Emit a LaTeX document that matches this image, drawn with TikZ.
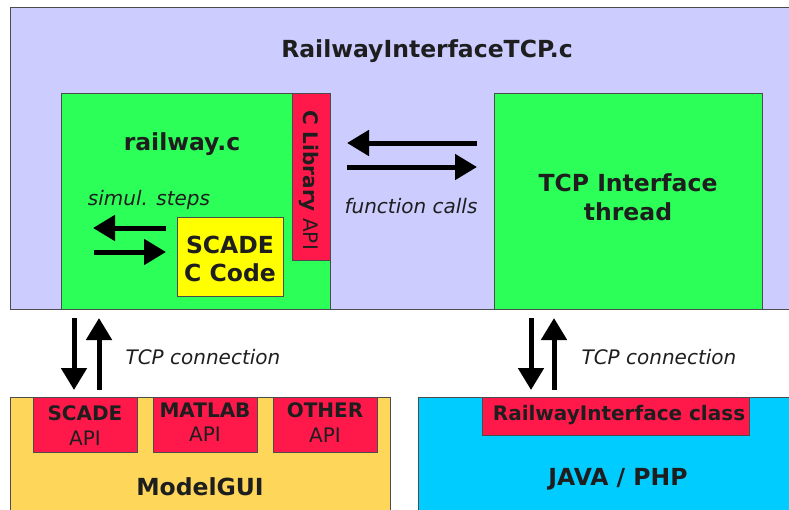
\documentclass[tikz,border=0pt]{standalone}
\usepackage{fontspec}
\setmainfont{DejaVu Sans}
\usepackage{tikz}
\usetikzlibrary{arrows.meta,positioning}

\definecolor{lavender}{RGB}{204,204,255}
\definecolor{codegreen}{RGB}{44,255,88}
\definecolor{apired}{RGB}{255,25,75}
\definecolor{codeyellow}{RGB}{255,255,0}
\definecolor{guiorange}{RGB}{254,215,90}
\definecolor{javacyan}{RGB}{0,204,255}
\definecolor{ink}{RGB}{30,30,30}

\tikzset{
	blk/.style={draw=black!70, line width=0.8pt, anchor=north west, inner sep=0pt},
	bigtxt/.style={font=\bfseries\fontsize{23.5}{28}\selectfont, text=ink, anchor=base},
	smalltxt/.style={font=\fontsize{20}{24}\selectfont, text=ink, anchor=base},
	flow/.style={line width=5pt, -{Triangle[length=22pt,width=25pt]}}
}

\begin{document}
\begin{tikzpicture}[x=1pt,y=-1pt]
	\useasboundingbox (0,0) rectangle (789,509);
	\node[blk, fill=lavender, minimum width=785pt, minimum height=302pt] (tcpfile) at (10,7) {};
	\node[bigtxt] (tcpfiletitle) at (427,57) {RailwayInterfaceTCP.c};

	\node[blk, fill=codegreen, minimum width=269pt, minimum height=216pt] (railway) at (61,93) {};
	\node[bigtxt] (railwaytitle) at (182,150) {railway.c};
	\node[blk, fill=apired, minimum width=38pt, minimum height=167pt] (clib) at (292,93) {};
	\node[smalltxt, anchor=center, rotate=-90] (clibtxt) at (309,180) {\textbf{C Library} API};
	\node[blk, fill=codeyellow, minimum width=106pt, minimum height=79pt] (scadecode) at (177,217) {};
	\node[bigtxt] (scadeline) at (230,253) {SCADE};
	\node[bigtxt] (ccodeline) at (230,281) {C Code};
	\node[smalltxt, font=\itshape\fontsize{20}{24}\selectfont] (simul) at (149,205) {simul. steps};

	\node[blk, fill=codegreen, minimum width=268pt, minimum height=216pt] (tcpthread) at (494,93) {};
	\node[bigtxt] (threadline1) at (628,191) {TCP Interface};
	\node[bigtxt] (threadline2) at (628,220) {thread};
	\node[smalltxt, font=\itshape\fontsize{20}{24}\selectfont] (fcalls) at (411,213) {function calls};

	\node[blk, fill=guiorange, minimum width=380pt, minimum height=120pt] (modelgui) at (10,397) {};
	\foreach \nm/\x/\lbl/\ya/\yb in {
		scadeapi/33/SCADE/420/445,
		matlabapi/153/MATLAB/417/441,
		otherapi/273/OTHER/417/442}
	{
		\node[blk, fill=apired, minimum width=104pt, minimum height=55pt] (\nm) at (\x,397) {};
		\node[smalltxt, font=\bfseries\fontsize{20}{24}\selectfont] at (\x+52,\ya) {\lbl};
		\node[smalltxt] at (\x+52,\yb) {API};
	}
	\node[bigtxt] (modelguititle) at (200,495) {ModelGUI};

	\node[blk, fill=javacyan, minimum width=375pt, minimum height=120pt] (javaphp) at (418,397) {};
	\node[blk, fill=apired, minimum width=267pt, minimum height=38pt] (ifclass) at (482,397) {};
	\node[smalltxt, font=\bfseries\fontsize{20}{24}\selectfont] (ifclasstxt) at (619,420) {RailwayInterface class};
	\node[bigtxt] (javaphptitle) at (618,485) {JAVA / PHP};

	\node[smalltxt, font=\itshape\fontsize{20}{24}\selectfont, anchor=base west] (tcpconl) at (122,364) {TCP connection};
	\node[smalltxt, font=\itshape\fontsize{20}{24}\selectfont, anchor=base west] (tcpconr) at (578,364) {TCP connection};

	\foreach \nm/\xa/\ya/\xb/\yb in {
		ssl/166/228/93/228,
		ssr/94/252/166/252,
		fcl/477/143/347/143,
		fcr/347/167/477/167,
		gdn/74/318/74/390,
		gup/99/390/99/318,
		jdn/531/318/531/390,
		jup/554/390/554/318}
	{
		\coordinate (\nm-a) at (\xa,\ya);
		\coordinate (\nm-b) at (\xb,\yb);
		\draw[flow] (\nm-a) -- (\nm-b);
	}
\end{tikzpicture}
\end{document}
